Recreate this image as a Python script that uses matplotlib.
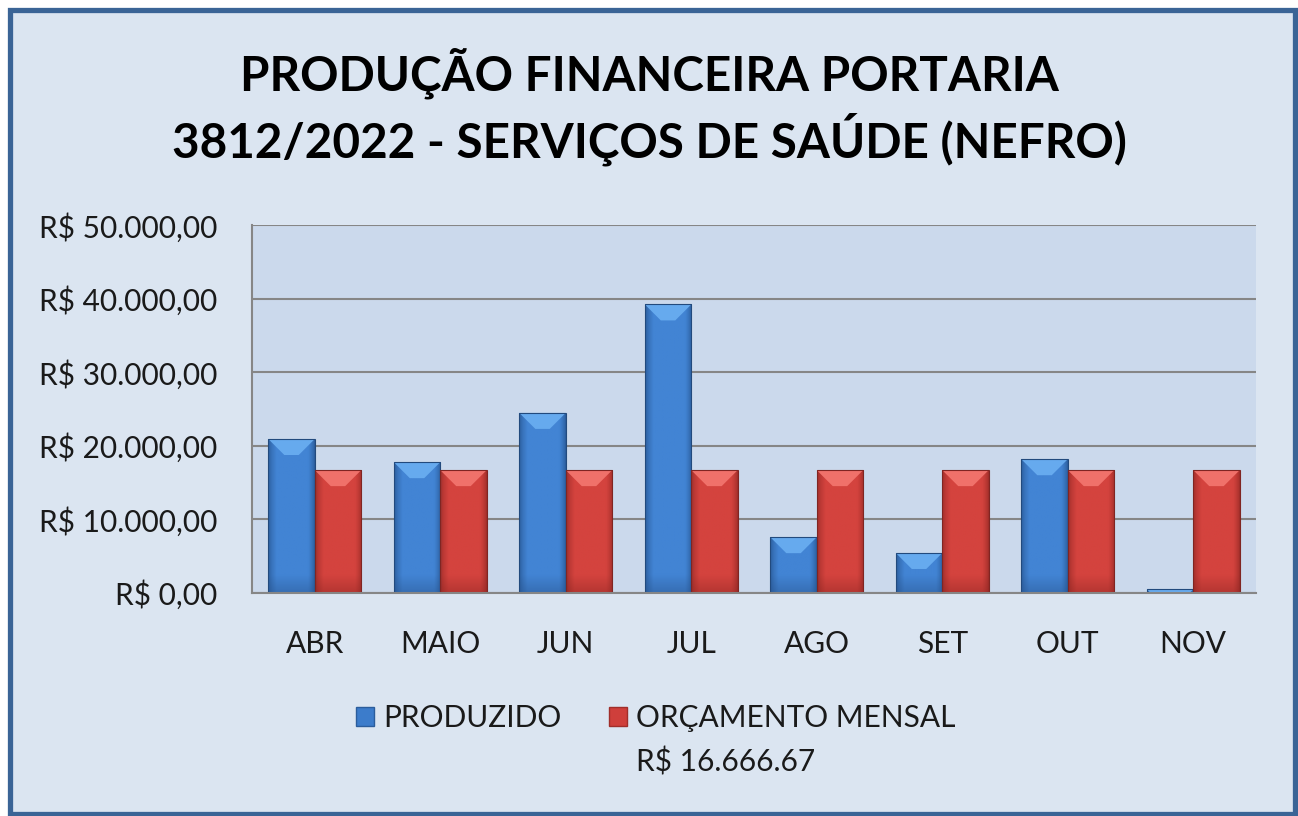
import numpy as np
import matplotlib
matplotlib.use("Agg")
import matplotlib.pyplot as plt
from matplotlib.colors import to_rgb
from matplotlib.patches import Polygon, Rectangle

# ---------------- data ----------------
months = ["ABR", "MAIO", "JUN", "JUL", "AGO", "SET", "OUT", "NOV"]
produzido = [20900, 17750, 24450, 39200, 7550, 5400, 18150, 450]
orcamento = [16666.67, 16666.67, 16666.67, 16666.67, 16666.67, 16666.67, 16666.67, 16666.67]
y_ticks = [0, 10000, 20000, 30000, 40000, 50000]
y_tick_labels = ["R$ 0,00", "R$ 10.000,00", "R$ 20.000,00", "R$ 30.000,00",
                 "R$ 40.000,00", "R$ 50.000,00"]
series_names = ["PRODUZIDO", "ORÇAMENTO MENSAL"]
orcamento_note = "R$ 16.666.67"
title_text = "PRODUÇÃO FINANCEIRA PORTARIA\n3812/2022 - SERVIÇOS DE SAÚDE (NEFRO)"

plt.rcParams['font.family'] = ['Lato', 'DejaVu Sans']

W, H = 1298, 816
fig = plt.figure(figsize=(W / 100, H / 100), dpi=100, facecolor="white")

# chart area with blue border
fig.patches.append(Rectangle((9.5 / W, 2.5 / H), (1294.5 - 9.5) / W, (813.5 - 9.5) / H,
                             transform=fig.transFigure, facecolor="#DBE5F1",
                             edgecolor="#3A6496", linewidth=3.8, zorder=-10))

AX_L, AX_R, AX_T, AX_B = 252, 1256, 225, 592.7
ax = fig.add_axes([AX_L / W, 1 - AX_B / H, (AX_R - AX_L) / W, (AX_B - AX_T) / H])
ax.set_facecolor("#CBD9EC")

x = np.arange(len(months))
bw = 0.37
b1 = ax.bar(x - bw / 2, produzido, bw, color="#3C7CCB", zorder=3, linewidth=0)
b2 = ax.bar(x + bw / 2, orcamento, bw, color="#CF3F3B", zorder=3, linewidth=0)

ax.set_xlim(-0.5, len(months) - 0.5)
ax.set_ylim(0, 50000)

# pixel scale for bevel
px_x = (AX_R - AX_L) / (len(months))
px_y = (AX_B - AX_T) / 50000


def shade(bars, mid, edge, light, dark_bottom):
    mid, edge, light, dark_bottom = map(lambda c: np.array(to_rgb(c)), (mid, edge, light, dark_bottom))
    nx, ny = 60, 200
    xs = np.linspace(0, 1, nx)
    hp = np.clip(np.minimum(xs / 0.18, (1 - xs) / 0.14), 0, 1) ** 0.7
    for p in bars:
        x0, y0 = p.get_x(), p.get_y()
        w, h = p.get_width(), p.get_height()
        ys = np.linspace(0, 1, ny)[:, None]
        base = edge[None, None, :] + (mid - edge)[None, None, :] * hp[None, :, None]
        hpx = h * px_y
        vb = np.clip((ys * hpx - (hpx - 18)) / 18, 0, 1)[:, :, None] * 0.45
        img = base * (1 - vb) + dark_bottom[None, None, :] * vb
        im = ax.imshow(np.clip(img, 0, 1), extent=[x0, x0 + w, y0, y0 + h],
                       aspect="auto", zorder=3.5, interpolation="bilinear")
        im.set_clip_path(p)
        dy = min(16 / px_y, h)
        dx = min(16 / px_x, w / 2) * (dy / (16 / px_y))
        top = y0 + h
        poly = Polygon([[x0, top], [x0 + w, top], [x0 + w - dx, top - dy], [x0 + dx, top - dy]],
                       closed=True, facecolor=light, edgecolor="none", zorder=3.7)
        ax.add_patch(poly)
        ax.add_patch(Rectangle((x0, y0), w, h, facecolor="none", edgecolor=edge * 0.8,
                               linewidth=0.8, zorder=3.8))


shade(b1, "#4284D4", "#2B5D9C", "#66AAEE", "#28538C")
shade(b2, "#D4433E", "#A02E2A", "#F0716A", "#8E2522")

ax.set_xlim(-0.5, len(months) - 0.5)
ax.set_ylim(0, 50000)

ax.set_yticks(y_ticks)
ax.set_yticklabels(y_tick_labels)
ax.set_xticks(x)
ax.set_xticklabels(months)
ax.tick_params(axis="y", length=0, pad=25, labelsize=21.5, labelcolor="#1a1a1a")
ax.tick_params(axis="x", length=0, pad=27, labelsize=21.5, labelcolor="#1a1a1a")
ax.yaxis.grid(True, color="#868686", linewidth=1.5, zorder=1)
ax.set_axisbelow(True)
for s in ["top", "right"]:
    ax.spines[s].set_visible(False)
for s in ["left", "bottom"]:
    ax.spines[s].set_color("#868686")
    ax.spines[s].set_linewidth(1.5)
    ax.spines[s].set_zorder(4)

fig.text(0.5, 1 - 107 / H, title_text, ha="center", va="center", fontsize=34.3,
         fontweight="bold", linespacing=1.3, color="black")

handles = [Rectangle((0, 0), 1, 1, facecolor="#3C7CCB", edgecolor="#2B5D9C"),
           Rectangle((0, 0), 1, 1, facecolor="#CF3F3B", edgecolor="#A02E2A")]
leg = fig.legend(handles, series_names, loc="center", bbox_to_anchor=(656 / W, 1 - 718 / H),
                 ncol=2, frameon=False, fontsize=21.5, handlelength=0.6, handleheight=0.6,
                 handletextpad=0.3, columnspacing=1.6, borderpad=0)
for t in leg.get_texts():
    t.set_color("#1a1a1a")

fig.canvas.draw()
r = fig.canvas.get_renderer()
bb = leg.get_texts()[1].get_window_extent(r)
fig.text(bb.x0 / W, 1 - 762 / H, orcamento_note, ha="left", va="center", fontsize=21.5,
         color="#1a1a1a")

fig.savefig("out.png", dpi=100, facecolor=fig.get_facecolor())
